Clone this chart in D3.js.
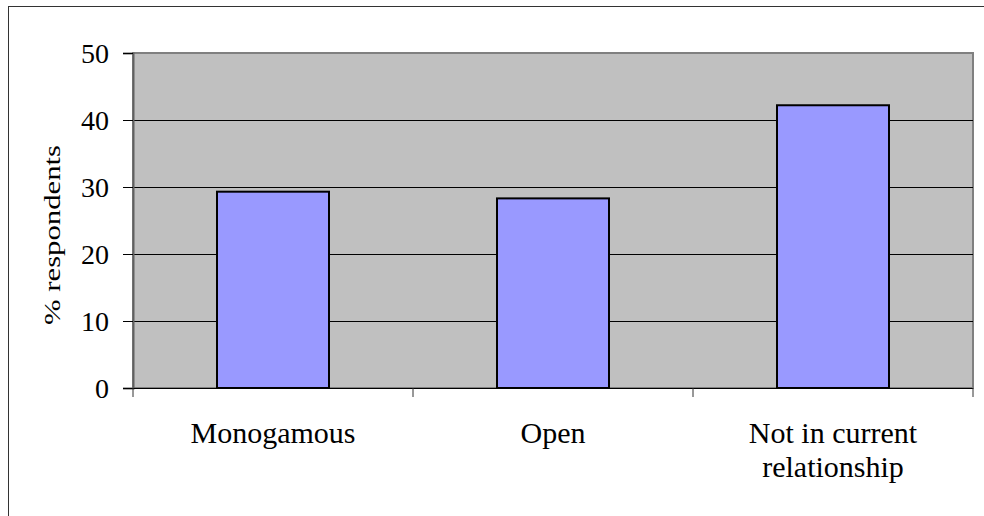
<!DOCTYPE html>
<html>
<head>
<meta charset="utf-8">
<script src="https://cdn.jsdelivr.net/npm/d3@7"></script>
<style>
  body { margin: 0; background: white; }
  text { font-family: "Liberation Serif", "Times New Roman", serif; fill: black; }
</style>
</head>
<body>
<div id="vis"></div>
<script>
// chart data
const categories = ["Monogamous", "Open", "Not in current relationship"];
const values = [29.3, 28.3, 42.2];
const yTicks = [0, 10, 20, 30, 40, 50];

// label lines (the last category wraps)
const labelLines = [["Monogamous"], ["Open"], ["Not in current", "relationship"]];

let margin = { top: 53, left: 133, right: 11, bottom: 128 },
  W = 984,
  H = 516,
  width = W - margin.left - margin.right,
  height = H - margin.top - margin.bottom;

let svg = d3
  .select("#vis")
  .append("svg")
  .attr("width", W)
  .attr("height", H);

// outer frame
svg.append("rect")
  .attr("x", 8.5).attr("y", 6.5)
  .attr("width", W).attr("height", H)
  .attr("fill", "white")
  .attr("stroke", "#333")
  .attr("stroke-width", 1);

let g = svg.append("g").attr("transform", `translate(${margin.left},${margin.top})`);

let x = d3.scaleBand().domain(categories).range([0, width]).paddingInner(0.6).paddingOuter(0.3);
let xb = d3.scaleBand().domain(categories).range([0, width]); // full bands for ticks
let y = d3.scaleLinear().domain([0, 50]).range([height, 0]);

// plot background
g.append("rect")
  .attr("x", 0).attr("y", 0)
  .attr("width", width).attr("height", height)
  .attr("fill", "#c0c0c0")
  .attr("stroke", "#808080")
  .attr("stroke-width", 2);

// gridlines
g.selectAll(".grid")
  .data(yTicks.filter(d => d > 0 && d < 50))
  .enter().append("line")
  .attr("x1", 0).attr("x2", width)
  .attr("y1", d => Math.round(y(d)) + 0.5)
  .attr("y2", d => Math.round(y(d)) + 0.5)
  .attr("stroke", "black")
  .attr("stroke-width", 1);

// bars
g.selectAll(".bar")
  .data(values)
  .enter().append("rect")
  .attr("x", (d, i) => x(categories[i]))
  .attr("y", d => y(d))
  .attr("width", x.bandwidth())
  .attr("height", d => y(0) - y(d))
  .attr("fill", "#9999ff")
  .attr("stroke", "black")
  .attr("stroke-width", 2);

// y axis
let yAxis = d3.axisLeft(y).tickValues(yTicks).tickSize(10).tickPadding(14);
let ya = g.append("g").call(yAxis);
ya.select(".domain").attr("stroke", "#606060").attr("stroke-width", 2);
ya.selectAll(".tick line").attr("stroke", "black");
ya.selectAll("text").style("font-size", "28px").attr("dy", "0.35em");

// x axis line + tick marks at category boundaries
g.append("line")
  .attr("x1", 0).attr("x2", width)
  .attr("y1", height + 0.5).attr("y2", height + 0.5)
  .attr("stroke", "black").attr("stroke-width", 1);

let bounds = categories.map(c => xb(c)).concat([width]);
g.selectAll(".xtick")
  .data(bounds)
  .enter().append("line")
  .attr("x1", d => d).attr("x2", d => d)
  .attr("y1", height).attr("y2", height + 9)
  .attr("stroke", "#333").attr("stroke-width", 1);

// x labels
categories.forEach((c, i) => {
  let t = g.append("text")
    .attr("text-anchor", "middle")
    .attr("x", xb(c) + xb.bandwidth() / 2)
    .attr("y", height + 55)
    .style("font-size", "30px");
  labelLines[i].forEach((line, j) => {
    t.append("tspan")
      .attr("x", xb(c) + xb.bandwidth() / 2)
      .attr("dy", j === 0 ? 0 : 34)
      .text(line);
  });
});

// y axis title
svg.append("text")
  .attr("transform", "translate(60,235) rotate(-90)")
  .attr("text-anchor", "middle")
  .style("font-size", "23px")
  .attr("textLength", 180)
  .attr("lengthAdjust", "spacingAndGlyphs")
  .text("% respondents");
</script>
</body>
</html>
